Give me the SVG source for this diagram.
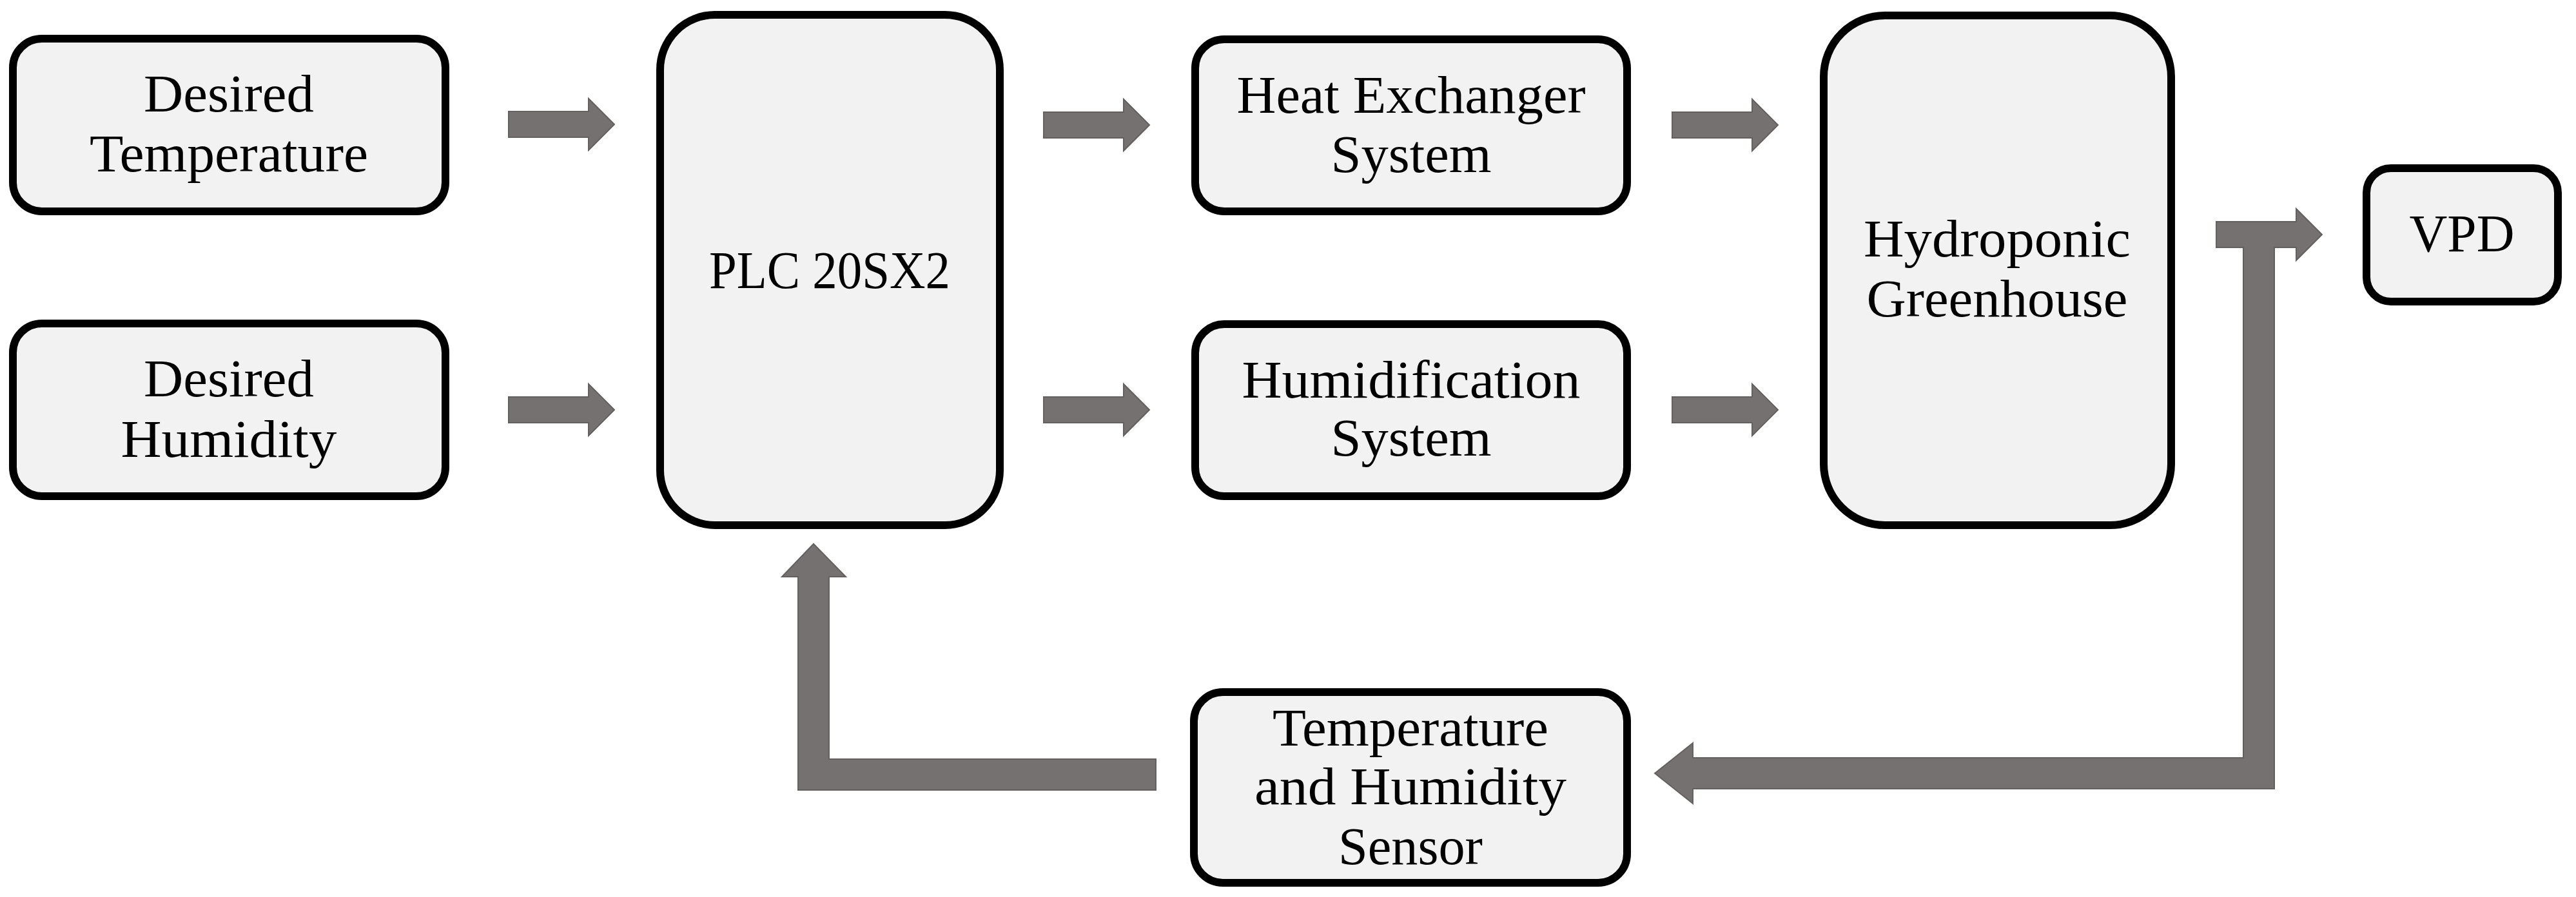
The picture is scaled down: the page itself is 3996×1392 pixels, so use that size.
<svg xmlns="http://www.w3.org/2000/svg" xmlns:xlink="http://www.w3.org/1999/xlink" width="3996" height="1392" viewBox="0 0 3996 1392">
<style>
.box{fill:#f2f2f2;stroke:#000;stroke-width:12}
.lbl{font-family:"Liberation Serif","Times New Roman",serif;font-size:83px;fill:#000;text-anchor:middle}
.arr{fill:#757171;stroke:#646060;stroke-width:2;stroke-linejoin:miter}
</style>
<defs>
<path id="rarrow" d="M0,-20 H124 V-40 L164,0 L124,40 V20 H0 Z"/>
</defs>
<rect width="3996" height="1392" fill="#fff"/>
<g id="connectors">
<use xlink:href="#rarrow" class="arr" x="789" y="193"/>
<use xlink:href="#rarrow" class="arr" x="789" y="636"/>
<use xlink:href="#rarrow" class="arr" x="1619" y="194"/>
<use xlink:href="#rarrow" class="arr" x="1619" y="636"/>
<use xlink:href="#rarrow" class="arr" x="2594" y="194"/>
<use xlink:href="#rarrow" class="arr" x="2594" y="636"/>
<path class="arr" d="M2567,1200 L2626,1153 V1176 H3480 V384 H3438 V344 H3562 V324 L3602,364 L3562,404 V384 H3528 V1224 H2626 V1247 Z"/>
<path class="arr" d="M1793,1178 H1286 V895 H1312 L1262,844 L1213,895 H1238 V1226 H1793 Z"/>
</g>
<g id="desired-temperature">
<rect class="box" x="20" y="60" width="671" height="268" rx="45"/>
<text class="lbl" x="355" y="173" textLength="264" lengthAdjust="spacingAndGlyphs">Desired</text>
<text class="lbl" x="355" y="266" textLength="432" lengthAdjust="spacingAndGlyphs">Temperature</text>
</g>
<g id="desired-humidity">
<rect class="box" x="20" y="502" width="671" height="268" rx="45"/>
<text class="lbl" x="355" y="615" textLength="264" lengthAdjust="spacingAndGlyphs">Desired</text>
<text class="lbl" x="355" y="709" textLength="335" lengthAdjust="spacingAndGlyphs">Humidity</text>
</g>
<g id="plc">
<rect class="box" x="1024" y="23" width="527" height="792" rx="85"/>
<text class="lbl" x="1287" y="447" textLength="374" lengthAdjust="spacingAndGlyphs">PLC 20SX2</text>
</g>
<g id="heat-exchanger">
<rect class="box" x="1854" y="61" width="670" height="267" rx="45"/>
<text class="lbl" x="2189" y="175" textLength="541" lengthAdjust="spacingAndGlyphs">Heat Exchanger</text>
<text class="lbl" x="2189" y="267" textLength="249" lengthAdjust="spacingAndGlyphs">System</text>
</g>
<g id="humidification">
<rect class="box" x="1854" y="503" width="670" height="267" rx="45"/>
<text class="lbl" x="2189" y="617" textLength="525" lengthAdjust="spacingAndGlyphs">Humidification</text>
<text class="lbl" x="2189" y="707" textLength="249" lengthAdjust="spacingAndGlyphs">System</text>
</g>
<g id="greenhouse">
<rect class="box" x="2829" y="24" width="539" height="791" rx="95"/>
<text class="lbl" x="3098" y="398" textLength="414" lengthAdjust="spacingAndGlyphs">Hydroponic</text>
<text class="lbl" x="3098" y="491" textLength="405" lengthAdjust="spacingAndGlyphs">Greenhouse</text>
</g>
<g id="vpd">
<rect class="box" x="3671" y="261" width="297" height="207" rx="38"/>
<text class="lbl" x="3819" y="390" textLength="163" lengthAdjust="spacingAndGlyphs">VPD</text>
</g>
<g id="sensor">
<rect class="box" x="1852" y="1074" width="672" height="296" rx="45"/>
<text class="lbl" x="2188" y="1157" textLength="428" lengthAdjust="spacingAndGlyphs">Temperature</text>
<text class="lbl" x="2188" y="1248" textLength="484" lengthAdjust="spacingAndGlyphs">and Humidity</text>
<text class="lbl" x="2188" y="1341" textLength="224" lengthAdjust="spacingAndGlyphs">Sensor</text>
</g>
</svg>
